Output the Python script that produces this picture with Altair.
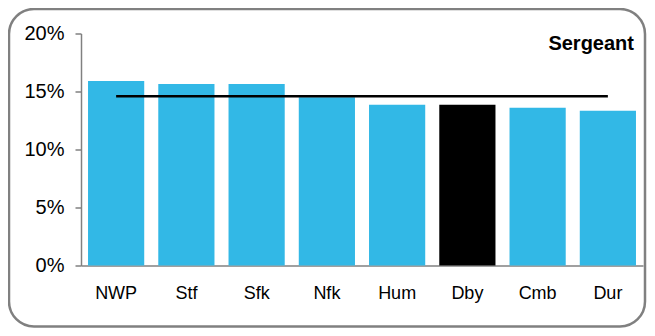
import altair as alt
import pandas as pd

regions = ["NWP", "Stf", "Sfk", "Nfk", "Hum", "Dby", "Cmb", "Dur"]
values = [15.9, 15.65, 15.65, 14.5, 13.85, 13.85, 13.6, 13.35]
average = [14.6] * 8
highlight = "Dby"
title_text = "Sergeant"

df = pd.DataFrame({"region": regions, "value": [v / 100 for v in values],
                   "avg": [a / 100 for a in average]})

FONT = "Liberation Sans"

x = alt.X("region:N", sort=regions, title=None,
          scale=alt.Scale(paddingInner=0.2, paddingOuter=0.1),
          axis=alt.Axis(labelAngle=0, ticks=False, labelPadding=19, labelFontSize=18,
                        labelFont=FONT, labelColor="#000000", domainColor="#808080",
                        domainWidth=1.5))

bars = alt.Chart(df).mark_bar().encode(
    x=x,
    y=alt.Y("value:Q", title=None,
            scale=alt.Scale(domain=[0, 0.2], nice=False),
            axis=alt.Axis(format=".0%", values=[0, 0.05, 0.1, 0.15, 0.2], grid=False,
                          tickSize=6, tickColor="#808080", tickWidth=1.5,
                          labelPadding=11, labelFontSize=20, labelFont=FONT,
                          labelColor="#000000", domainColor="#808080", domainWidth=1.5)),
    color=alt.condition(alt.datum.region == highlight, alt.value("#000000"), alt.value("#32B8E6")),
)

line = alt.Chart(df).mark_line(color="#000000", strokeWidth=2.5).encode(
    x=alt.X("region:N", sort=regions),
    y=alt.Y("avg:Q"),
)

title = alt.Chart(pd.DataFrame({"t": [title_text]})).mark_text(
    align="right", baseline="alphabetic", fontSize=20, fontWeight="bold", font=FONT,
    color="#000000").encode(text="t:N", x=alt.value(553), y=alt.value(16.5))

frame = alt.Chart(pd.DataFrame({"a": [0]})).mark_rect(
    fill=None, stroke="#808080", strokeWidth=2.5, cornerRadius=25, clip=False).encode(
    x=alt.value(-72), x2=alt.value(564), y=alt.value(-24.5), y2=alt.value(293))

chart = alt.layer(bars, line, title, frame).properties(
    width=562, height=232,
    autosize=alt.AutoSizeParams(type="none"),
    padding={"left": 73, "top": 25.5, "right": 4, "bottom": 62.5},
).configure_view(stroke=None)

chart.save("out.html", embed_options={"renderer": "svg", "actions": False})
